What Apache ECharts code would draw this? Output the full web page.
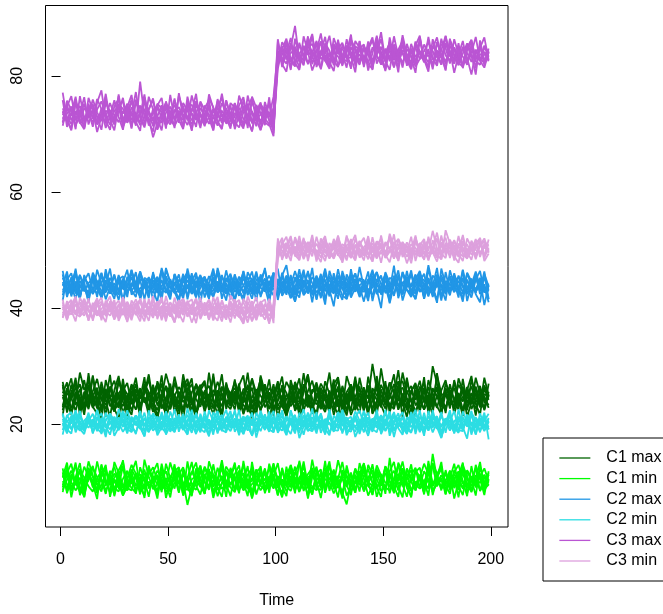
<!DOCTYPE html>
<html>
<head>
<meta charset="utf-8">
<script src="https://cdn.jsdelivr.net/npm/echarts@6/dist/echarts.min.js"></script>
<style>html,body{margin:0;padding:0;background:#fff;}#c{width:663px;height:614px;}</style>
</head>
<body>
<div id="c"></div>
<script>
// Sampling: every second time step, t = 1,3,...,199
const timeStart = 1, timeStep = 2;
const xTicks = [0, 50, 100, 150, 200];
const yTicks = [20, 40, 60, 80];
const groupNames = ["C1 max", "C1 min", "C2 max", "C2 min", "C3 max", "C3 min"];
const groupColors = ["#006400", "#00ff00", "#2196e6", "#2cdde3", "#ba55d3", "#dda0dd"];

const c1Max = [
[25.1,23.4,26.8,24.0,28.9,25.9,27.3,24.6,23.1,22.4,24.8,26.2,23.7,25.4,21.9,24.3,26.9,25.0,23.2,24.7,22.8,25.6,24.1,27.0,23.5,22.6,24.9,26.4,25.2,23.0,24.4,21.8,23.9,25.7,26.6,24.2,22.9,25.3,23.6,24.8,27.4,25.1,23.3,22.5,24.6,26.0,24.9,23.8,25.5,22.3,24.0,26.7,25.4,23.1,24.5,22.2,25.8,27.9,24.3,23.4,25.0,24.1,22.7,26.3,25.6,23.9,24.7,21.6,23.5,25.2,26.1,24.4,30.4,25.9,23.7,24.8,27.2,25.3,23.0,24.6,22.4,25.7,24.2,26.5,23.8,25.1,22.6,24.9,25.0,25.4,23.3,24.0,26.8,25.5,22.8,24.3,26.0,23.6,25.2,24.7],
[23.2,26.1,24.5,22.3,25.0,27.6,23.8,24.9,26.3,22.7,25.5,23.1,24.2,27.1,25.8,22.9,23.6,26.0,24.4,25.3,27.7,23.9,22.4,24.8,26.6,25.1,23.3,24.0,22.1,25.7,26.9,24.3,23.0,25.6,22.8,24.7,27.3,25.2,23.5,22.6,24.9,26.4,23.7,25.0,27.8,24.1,22.5,23.9,26.2,25.4,23.1,24.6,22.0,25.9,26.8,24.2,23.4,25.1,22.9,24.5,27.0,25.6,23.2,24.3,26.5,22.7,25.3,24.0,28.2,23.8,24.9,22.3,25.7,26.1,23.6,24.4,22.8,25.5,27.4,24.1,23.0,25.8,26.7,24.6,22.5,23.9,30.0,27.0,24.3,22.9,25.0,26.3,23.4,24.7,25.9,22.6,24.2,26.6,23.7,25.1],
[26.4,24.1,22.8,25.3,23.6,24.9,26.7,23.0,25.5,24.2,22.6,25.9,27.5,24.4,23.1,25.0,22.3,24.7,26.2,23.8,25.4,24.0,26.9,22.7,23.9,25.6,24.3,22.2,25.1,27.2,23.5,24.8,26.0,23.3,25.2,22.9,24.6,26.5,24.0,23.2,25.7,22.4,24.3,26.8,23.7,25.0,27.1,24.5,22.8,23.9,25.3,24.7,22.6,23.8,27.3,25.5,24.1,22.9,26.0,25.2,23.4,22.1,24.8,25.7,23.0,26.6,24.2,25.9,22.5,24.0,23.6,26.3,24.9,22.7,25.1,23.3,24.5,26.9,24.7,23.1,25.6,24.0,22.3,23.5,26.2,25.3,24.4,22.8,25.8,27.6,24.1,23.0,25.4,22.5,24.9,26.5,23.8,24.6,22.7,25.6],
[24.7,22.5,25.6,27.0,24.0,23.2,25.1,22.8,24.3,26.1,23.9,24.6,22.2,25.3,26.4,23.6,25.8,24.1,22.6,26.5,24.2,23.0,25.4,24.8,22.4,26.2,25.0,23.7,24.9,22.7,25.5,26.7,24.0,22.9,23.8,25.9,24.4,23.1,26.3,25.2,23.4,24.8,25.6,22.1,24.2,23.5,26.4,25.1,24.0,26.9,22.5,23.8,25.0,24.3,22.8,26.1,23.6,24.5,25.4,27.2,24.0,22.6,25.8,23.3,24.7,25.2,22.2,26.6,24.4,23.1,25.3,24.6,22.8,23.9,26.8,25.0,23.4,22.6,25.7,26.3,24.2,22.9,25.1,27.5,24.0,23.3,26.0,24.8,23.6,22.4,25.9,24.4,23.1,26.2,24.7,23.5,25.3,22.9,26.1,24.2],
[22.9,25.4,24.2,26.5,23.1,24.8,22.6,25.7,27.8,24.4,23.3,25.0,24.6,22.8,26.3,25.2,24.0,22.5,25.9,23.7,24.5,26.8,23.2,25.1,24.3,27.0,22.9,25.6,23.8,24.9,22.4,25.3,26.2,24.5,23.6,22.7,25.8,24.1,26.9,23.4,24.7,23.0,26.1,25.5,22.6,24.9,23.4,26.3,24.6,25.7,26.4,22.9,24.3,25.6,23.7,24.0,26.9,23.2,22.8,25.1,24.4,25.9,23.7,22.5,24.9,26.2,23.4,25.0,24.7,26.5,22.7,23.8,25.5,24.2,22.9,26.7,25.1,23.5,24.1,28.9,25.4,26.6,23.2,24.5,25.7,22.8,24.3,26.1,23.0,25.3,24.8,22.6,25.2,23.9,26.4,24.1,22.7,25.5,24.4,23.3],
[26.8,22.0,24.9,27.5,21.3,25.6,23.1,28.2,24.0,20.9,26.1,23.5,22.2,27.9,25.0,21.7,24.6,26.9,22.8,25.3,28.6,23.9,21.5,24.2,26.5,22.6,27.2,24.8,20.8,25.9,23.3,27.0,25.4,22.1,24.7,28.1,23.6,21.9,26.3,24.4,22.5,26.7,28.4,23.0,21.4,25.2,27.6,22.9,24.1,26.0,21.1,24.5,27.3,25.8,22.3,23.7,28.8,24.3,21.8,26.6,25.1,22.7,24.0,27.7,23.4,20.7,25.5,26.8,22.4,28.0,24.6,21.6,26.2,25.0,23.2,27.4,22.0,24.9,29.3,23.8,21.2,25.7,27.1,22.6,24.3,26.4,23.1,28.5,25.3,21.9,26.9,24.0,22.5,27.8,23.6,25.4,21.5,26.1,24.7,22.8],
[22.4,25.7,27.9,23.3,24.8,21.6,26.4,25.0,22.7,27.3,24.1,21.2,25.9,28.3,23.8,22.5,26.6,24.2,21.8,27.0,25.5,23.0,20.9,24.6,28.7,26.0,22.1,23.9,27.5,24.4,21.4,25.3,26.8,22.9,28.9,24.0,21.7,26.2,25.6,23.1,27.7,22.3,24.8,26.5,21.0,23.6,28.1,25.2,22.6,24.9,27.4,23.5,21.3,26.7,24.3,22.0,25.8,28.5,23.2,21.9,26.3,24.7,22.8,25.4,27.8,21.5,24.1,26.9,23.7,25.1,22.2,28.2,24.5,21.7,26.0,23.4,27.2,25.6,22.5,24.2,28.0,23.9,21.4,25.7,27.0,22.9,24.6,26.4,21.8,25.3,23.1,27.6,24.4,22.0,25.9,28.3,23.5,21.6,26.7,24.8],
[25.3,27.2,21.9,24.4,26.0,22.8,28.8,23.7,25.9,22.1,27.6,24.9,22.4,23.6,26.8,20.8,25.1,28.0,23.3,24.6,21.6,26.3,24.0,28.4,22.7,25.5,23.9,21.2,26.6,27.8,24.3,22.0,25.8,27.1,23.5,21.8,24.9,28.6,22.6,25.4,26.2,24.6,21.7,23.9,27.9,25.3,22.2,26.9,24.0,21.5,25.6,28.2,22.9,24.8,26.5,21.2,23.4,25.7,27.5,24.2,22.6,25.0,28.9,23.1,21.8,26.1,24.6,22.3,27.3,25.8,23.6,26.6,21.9,28.3,24.1,22.7,25.4,23.0,26.8,27.4,24.5,22.1,25.9,23.7,28.1,21.6,26.2,24.8,22.9,27.0,25.6,21.8,24.3,26.5,22.4,27.7,25.0,23.2,28.0,24.9],
[21.5,26.2,24.7,28.0,22.4,25.1,27.7,23.0,21.8,26.4,24.2,28.5,22.7,20.9,25.8,27.1,23.6,25.0,21.4,26.9,24.5,22.1,27.4,25.6,21.0,23.8,28.2,24.9,22.5,26.0,27.9,21.6,24.1,25.5,22.8,28.7,23.3,21.2,26.6,25.2,23.9,27.0,21.9,24.6,26.3,22.2,28.4,25.4,21.1,24.0,26.8,23.1,21.7,27.6,24.8,22.6,26.1,28.6,23.5,21.3,25.7,24.3,22.0,26.9,28.1,23.7,21.5,25.3,27.2,22.9,24.5,26.7,21.8,23.4,29.6,25.1,22.3,24.7,26.5,21.2,27.5,23.9,25.5,22.1,26.3,24.0,21.6,28.8,23.2,25.9,22.7,27.3,24.4,21.4,26.0,23.6,28.0,25.2,22.4,24.9],
[27.3,23.8,21.7,25.4,26.9,22.5,24.1,28.4,23.4,25.7,21.3,26.5,24.8,22.9,27.8,23.1,21.6,25.9,24.4,28.1,22.2,25.3,27.0,23.5,21.9,26.2,24.6,22.7,28.6,25.0,23.7,21.1,26.4,27.5,22.4,24.9,25.8,21.5,27.2,23.9,25.6,22.0,24.3,28.9,23.3,21.7,26.6,24.5,27.7,22.8,24.1,26.3,21.4,23.8,25.5,27.9,22.3,24.7,21.8,26.8,23.0,27.4,25.2,21.6,24.4,22.6,28.3,25.9,23.6,21.9,26.4,22.4,24.0,27.1,23.3,21.5,25.7,28.6,22.8,25.3,23.5,21.0,26.9,24.2,22.5,27.6,25.1,23.1,21.7,26.2,24.8,22.9,27.9,25.6,21.3,23.8,26.5,24.1,22.6,27.0]
];
const c1Min = [
[10.2,8.9,11.4,9.6,12.1,10.8,9.3,8.4,10.7,11.9,9.8,10.5,8.7,11.2,12.6,10.1,9.0,8.2,10.9,11.5,9.4,10.3,12.0,10.6,8.8,9.7,11.1,10.0,8.5,9.9,11.8,10.4,9.2,12.4,10.7,8.6,9.5,11.0,10.3,9.1,8.3,10.8,11.6,9.9,10.2,12.2,9.4,8.7,10.6,11.3,9.0,10.5,8.4,9.8,11.7,10.1,12.8,9.6,8.9,10.4,11.2,9.3,10.0,8.1,9.7,11.4,10.9,9.5,12.3,10.2,8.8,9.9,11.1,10.6,8.5,9.2,10.8,12.0,9.7,10.3,11.5,8.6,10.1,9.4,11.9,10.5,8.3,9.8,11.2,10.0,9.1,12.1,10.7,8.9,9.6,11.0,10.4,8.7,10.9,9.5],
[9.5,11.3,10.0,8.6,9.8,12.7,11.0,10.2,8.9,9.4,11.6,10.8,9.1,8.4,10.6,12.0,9.7,10.9,11.4,8.8,10.1,9.3,8.0,10.7,11.9,9.6,10.4,12.3,9.0,8.7,10.5,11.1,9.8,8.5,10.9,9.2,12.5,10.3,11.7,9.5,10.8,8.9,9.6,11.3,12.4,10.0,8.6,9.9,11.0,10.6,9.2,8.3,10.9,11.8,9.7,10.4,8.8,9.1,11.5,12.2,10.3,9.0,11.6,10.7,9.4,8.5,10.1,11.2,9.8,10.5,12.6,9.3,8.7,10.8,11.4,9.9,10.2,8.4,11.0,9.6,10.7,12.1,9.5,11.3,10.0,8.9,14.9,10.6,9.2,11.7,8.6,10.4,11.9,9.7,10.9,8.8,10.2,11.5,9.3,10.1],
[11.1,9.7,8.5,10.6,11.8,9.2,10.3,12.5,10.9,8.8,9.6,11.4,10.1,9.0,8.6,10.8,11.7,9.4,10.5,12.2,8.9,10.2,11.3,9.5,10.7,8.4,9.9,11.6,10.0,6.1,9.3,10.6,12.0,11.2,9.1,10.4,8.7,9.8,11.5,10.9,12.8,10.3,8.6,9.4,10.7,11.1,9.6,12.0,10.2,8.9,10.5,11.9,9.3,8.5,10.8,9.7,10.1,11.4,12.4,9.0,8.7,10.6,9.9,11.7,10.3,8.2,6.2,10.0,11.3,9.5,10.9,12.3,9.8,8.9,10.4,11.6,9.2,10.7,8.6,11.0,9.4,10.2,11.8,12.5,9.1,10.5,8.8,9.6,11.2,10.3,12.0,9.0,10.8,11.4,9.7,8.5,10.6,9.9,11.3,10.0],
[8.7,10.4,12.0,9.9,8.3,10.7,11.5,9.4,10.1,11.0,12.4,9.6,10.8,11.9,9.3,8.6,10.2,11.1,9.8,8.9,11.4,12.6,10.3,8.8,9.5,10.9,12.1,9.7,11.3,10.0,8.4,9.9,10.6,12.7,11.2,9.5,10.1,8.9,9.6,12.2,10.4,11.7,9.0,10.6,8.5,9.8,11.4,10.3,12.5,9.2,11.0,10.2,9.6,12.4,8.7,10.9,11.6,10.0,9.3,8.6,9.9,11.8,10.4,12.2,9.0,10.7,11.3,8.4,10.1,11.9,9.5,10.8,12.1,9.2,10.5,8.8,11.5,9.7,10.3,12.4,10.0,8.5,9.6,10.8,13.2,11.4,9.3,10.6,8.9,9.8,11.1,10.3,8.7,12.0,10.5,9.4,11.2,10.7,8.8,9.6],
[10.8,12.3,9.1,10.4,8.8,9.7,13.6,11.2,9.5,10.6,8.6,9.9,11.5,10.3,9.0,11.8,10.5,8.9,9.4,10.7,12.1,11.0,9.6,10.2,8.3,9.5,10.8,11.4,12.6,10.1,9.2,8.7,11.9,10.0,9.4,11.3,10.6,12.4,8.8,9.9,10.5,12.0,11.1,8.9,9.7,10.4,11.8,8.6,9.3,12.2,10.7,9.4,11.6,10.1,12.7,8.5,9.8,10.9,11.3,9.6,10.4,12.5,8.9,9.7,11.1,10.6,9.2,11.7,8.8,10.3,11.9,10.0,9.4,12.2,10.7,9.1,8.6,10.5,11.4,9.3,12.3,10.8,9.6,8.9,10.1,11.6,12.8,9.5,10.4,8.7,9.9,11.3,10.5,9.0,12.1,10.8,9.4,11.0,12.4,10.2],
[12.4,8.1,10.6,13.0,9.2,7.5,11.3,12.8,9.6,8.4,11.9,10.2,7.9,12.1,13.5,9.0,8.6,11.6,10.4,7.3,12.6,9.8,11.1,8.3,13.2,10.7,8.9,12.3,7.7,10.1,11.7,13.4,9.4,8.0,12.0,10.9,7.6,9.9,12.7,11.4,8.5,10.3,13.1,9.1,7.8,11.8,12.5,8.8,10.6,13.3,9.5,7.4,11.2,12.9,8.7,10.0,13.6,9.3,7.9,11.5,12.2,8.2,10.8,9.7,13.8,11.0,7.7,9.2,12.4,10.5,8.6,13.0,11.3,7.5,9.9,12.6,10.2,8.1,13.4,11.7,9.0,7.6,12.1,10.9,8.3,13.7,9.6,11.4,12.8,8.0,10.7,13.2,9.4,7.8,11.9,10.3,12.5,8.5,9.8,11.6],
[8.3,11.6,13.2,9.5,10.8,7.4,12.0,9.1,13.6,10.4,8.0,11.2,12.7,9.8,7.7,10.6,13.0,11.5,8.4,9.3,12.9,10.1,7.2,11.8,9.6,13.4,10.9,8.2,12.2,9.0,7.8,11.4,12.8,10.0,8.7,13.1,9.4,11.1,7.5,12.5,10.5,8.1,13.7,9.7,11.9,7.9,10.3,12.4,8.8,11.0,13.3,9.2,7.6,12.6,10.7,8.5,11.7,9.0,13.9,10.2,7.3,11.3,12.9,8.9,10.6,13.5,9.5,7.8,12.1,11.4,8.4,10.0,13.1,9.1,7.5,12.7,11.6,8.6,10.9,13.6,9.8,7.4,12.3,10.4,8.2,11.8,13.2,9.3,10.7,7.9,12.0,9.6,11.1,13.4,8.1,10.5,7.7,12.6,9.9,11.3],
[10.9,13.4,8.6,9.9,12.3,7.9,11.5,10.2,8.3,13.1,9.4,12.0,7.6,10.8,13.8,9.2,11.1,8.0,12.6,10.4,7.5,11.7,13.3,9.0,10.6,8.4,12.4,11.0,7.8,13.6,9.6,10.3,12.9,8.2,11.4,7.3,10.0,13.2,9.1,12.2,8.7,11.9,10.1,7.6,13.5,9.5,12.8,8.1,10.7,11.3,7.7,12.5,9.4,13.0,10.5,8.3,11.6,7.2,10.9,12.7,9.0,13.7,8.5,11.2,10.0,7.5,12.9,9.8,8.2,11.5,13.3,9.7,7.9,12.1,10.6,8.8,11.9,13.5,9.3,7.4,12.4,10.1,8.6,11.0,9.2,13.1,7.8,10.8,12.3,9.5,8.0,11.7,13.0,10.2,7.6,12.8,9.1,11.2,8.4,10.6],
[9.1,12.6,7.4,10.9,13.3,8.5,11.2,9.7,7.1,12.9,10.4,8.2,13.5,11.6,7.7,9.3,12.2,10.8,7.9,13.9,11.0,8.8,9.6,12.7,7.3,10.2,13.1,8.4,11.7,9.5,7.6,12.4,10.6,8.0,13.6,11.3,9.1,7.5,12.0,10.9,13.4,8.6,10.1,12.8,7.2,9.9,11.5,8.3,13.2,10.5,7.8,12.3,9.4,11.1,8.1,13.7,10.3,7.6,12.5,9.0,11.8,8.7,13.0,10.0,7.4,12.1,9.8,11.4,8.2,13.3,10.7,7.7,9.5,12.9,11.2,8.0,14.2,9.3,7.5,12.2,10.4,13.1,8.6,11.0,7.9,12.6,9.7,10.8,13.5,8.3,11.6,7.2,10.1,12.7,9.2,8.5,13.0,10.6,7.8,11.9],
[11.7,8.4,10.2,13.4,7.8,9.6,12.5,10.9,8.1,11.3,13.0,7.5,10.6,9.2,12.8,8.6,11.5,13.7,9.0,7.7,12.1,10.4,8.3,13.2,9.8,7.4,11.9,12.6,8.9,10.7,13.5,9.4,7.9,11.1,12.3,8.0,10.5,13.8,9.7,7.6,11.4,12.9,8.7,10.0,7.3,12.2,9.5,11.8,8.2,13.1,10.3,7.6,12.7,9.1,11.6,13.4,8.5,10.8,7.9,12.0,9.3,11.2,13.6,8.8,10.4,7.2,12.4,9.9,11.0,8.4,13.2,10.1,7.8,11.7,9.4,12.8,8.1,10.6,13.0,9.6,7.5,11.3,12.5,8.9,10.2,7.7,13.3,11.5,8.6,12.1,9.2,10.9,7.4,12.9,11.1,8.3,10.5,13.5,9.0,11.4]
];
const c2Max = [
[44.1,42.8,45.3,43.5,42.2,44.7,46.0,43.1,42.6,44.4,45.6,43.8,42.4,44.9,43.3,45.1,42.9,44.2,46.3,43.6,42.5,44.0,45.4,43.2,42.7,44.6,43.9,45.8,42.3,43.7,44.8,42.6,43.4,45.2,44.1,42.0,43.8,45.7,43.0,44.5,42.8,43.6,45.0,44.3,42.4,46.1,43.5,42.9,44.7,43.1,44.2,45.5,42.7,43.9,46.4,44.0,42.5,43.3,45.3,44.6,42.1,43.7,44.9,42.8,45.6,43.2,44.4,41.8,43.5,45.1,44.8,42.6,43.9,46.2,44.1,42.9,43.4,45.4,42.3,44.5,43.6,45.8,42.7,44.0,43.1,45.2,41.9,44.6,43.8,42.4,45.5,43.3,44.7,42.6,46.0,43.9,42.8,44.3,45.1,43.0],
[43.0,44.6,42.5,45.8,43.7,42.9,44.3,45.1,43.4,42.1,44.8,43.2,45.6,42.7,44.0,43.5,46.5,44.2,42.8,43.9,45.3,44.1,42.6,43.8,45.0,42.3,44.5,43.1,44.9,46.1,43.6,42.4,44.7,43.3,45.5,44.0,42.8,43.5,44.6,45.9,43.2,44.4,42.5,43.7,45.1,42.9,44.8,46.6,43.4,42.2,45.0,43.8,44.5,42.6,43.1,45.7,44.2,42.9,43.6,45.4,44.0,46.8,43.3,42.5,44.7,43.9,45.2,42.8,44.1,41.9,43.5,45.0,44.6,42.4,43.8,45.9,43.1,44.3,42.7,46.2,44.4,43.0,42.5,45.3,44.8,43.6,42.2,44.1,45.7,43.4,42.9,44.6,43.2,45.1,42.5,44.0,46.3,43.7,42.8,44.2],
[44.5,43.3,42.4,44.0,45.7,43.6,42.7,44.9,43.2,45.4,43.9,42.5,44.3,43.0,45.1,42.8,43.7,44.6,42.3,45.0,43.4,44.8,43.1,46.9,44.2,43.5,42.6,44.9,43.8,42.2,45.3,43.6,44.4,42.9,43.2,44.7,45.8,43.3,42.5,44.1,43.7,45.4,43.9,42.6,44.6,43.0,42.4,44.2,45.6,43.8,42.9,44.0,43.4,45.2,42.3,44.5,43.7,46.1,44.3,42.7,43.5,44.9,42.4,43.6,44.2,42.1,41.6,44.8,45.9,43.2,42.8,44.4,45.5,43.1,42.6,44.7,43.9,42.3,45.3,44.0,43.1,42.6,44.9,46.4,43.5,42.9,44.2,43.6,45.0,42.7,44.3,45.7,43.0,42.4,44.8,43.3,45.4,42.9,44.1,41.5],
[42.7,43.9,44.8,42.5,43.6,45.2,44.1,42.4,43.8,46.0,43.2,44.5,42.9,45.7,43.4,42.6,44.3,43.1,45.0,44.6,42.8,43.5,44.9,42.2,45.5,43.7,44.0,42.7,43.3,44.8,42.9,45.6,43.8,44.2,42.4,43.1,44.6,42.8,45.2,43.5,44.7,42.6,43.9,45.3,43.0,44.4,42.3,43.6,44.1,46.0,43.3,42.7,45.6,44.3,43.7,42.5,44.8,43.4,42.9,44.0,45.4,43.1,42.6,44.6,43.8,45.9,42.8,43.2,44.7,42.6,44.0,43.3,42.2,44.9,45.3,43.6,42.7,44.1,43.9,42.4,45.1,43.7,44.5,42.8,43.2,47.4,43.8,44.6,42.3,43.5,44.2,42.7,45.6,43.9,43.1,44.5,42.6,45.2,43.4,42.9],
[45.2,43.5,44.0,42.9,44.7,43.1,42.6,45.5,44.2,43.0,42.7,44.4,43.6,42.3,44.9,43.8,45.3,42.8,43.4,44.1,43.7,42.6,45.1,44.5,43.0,42.4,45.8,43.3,44.6,43.9,42.5,44.2,45.7,43.6,42.8,44.9,43.2,44.0,42.7,43.4,45.3,43.8,42.9,44.5,42.6,43.4,45.5,44.0,43.1,44.8,42.2,43.5,44.7,42.9,45.0,43.3,44.4,42.8,43.7,45.6,43.0,44.2,43.8,45.3,42.5,44.6,43.4,45.7,42.9,43.9,44.6,42.3,43.6,44.1,42.7,43.5,45.2,44.8,43.0,42.6,44.3,43.9,45.8,42.9,44.2,43.4,42.5,45.1,44.0,43.3,42.8,44.7,45.3,43.6,42.4,44.5,43.2,44.9,42.7,43.8],
[45.8,41.9,44.3,46.4,42.5,43.7,41.2,45.1,44.6,42.0,46.7,43.2,41.6,44.9,45.5,42.8,43.9,46.2,41.4,44.1,42.3,45.7,43.5,41.8,46.9,44.4,42.6,43.0,45.9,41.5,44.7,46.1,42.2,43.8,41.7,45.3,44.0,42.9,46.5,43.3,41.3,44.8,45.6,42.4,43.6,46.3,41.9,44.5,42.7,45.0,46.8,42.1,43.4,45.4,41.1,44.2,46.6,42.5,43.9,41.6,45.2,44.7,42.0,46.0,43.1,41.4,45.8,44.3,42.8,47.1,43.5,41.8,44.9,46.2,42.3,43.7,41.0,45.6,44.1,42.6,46.4,43.0,41.5,44.6,45.9,42.2,43.8,46.9,41.7,44.4,45.1,42.9,43.3,46.5,41.2,44.0,45.7,42.4,43.6,41.0],
[42.2,44.9,46.0,43.1,41.7,45.4,43.8,42.5,46.6,44.2,41.5,43.6,45.8,42.9,44.5,41.9,46.3,43.3,42.0,45.2,44.7,41.4,43.9,46.5,42.6,45.0,43.2,41.6,44.8,46.2,42.4,43.7,45.5,41.8,44.3,46.8,42.7,43.4,41.3,45.6,44.0,42.1,46.4,43.5,41.6,44.9,45.3,42.8,43.9,46.1,41.4,44.6,42.3,45.7,43.0,41.8,46.0,44.4,42.5,43.6,45.9,41.5,44.1,42.7,46.7,43.3,41.9,45.1,44.8,42.2,43.7,46.3,41.2,44.5,45.6,42.6,43.1,47.3,41.7,44.2,45.4,42.0,43.8,46.1,41.6,44.7,42.9,45.8,43.4,41.3,46.5,44.0,42.4,45.2,43.6,41.8,44.9,46.4,42.7,43.5],
[43.9,46.3,42.0,44.6,41.6,45.7,43.4,44.9,41.9,46.1,42.8,45.2,43.7,41.4,44.4,46.6,42.3,43.1,45.6,44.0,41.7,46.2,42.9,44.8,43.3,41.5,45.9,44.2,42.4,46.8,43.6,41.8,44.7,45.4,42.1,43.9,46.5,41.6,44.3,42.7,45.8,43.0,41.2,44.5,46.3,42.6,43.8,45.1,41.8,44.1,42.5,46.1,43.5,41.7,45.3,44.6,42.2,43.2,46.9,41.4,44.8,42.9,45.5,43.6,41.6,46.4,44.0,42.3,45.0,43.8,41.1,44.4,46.6,42.8,43.4,45.9,41.5,44.7,42.6,46.2,43.1,41.9,45.6,44.3,42.0,46.7,43.7,41.4,45.2,44.5,42.7,46.0,43.3,41.7,44.9,42.5,45.7,43.0,46.3,41.6],
[41.3,45.6,43.0,46.8,42.1,44.5,40.9,45.9,43.4,41.8,46.2,44.0,42.4,45.3,41.1,43.8,46.6,42.7,44.9,41.5,45.1,43.2,41.0,46.4,44.3,42.0,45.7,43.6,41.6,46.0,42.8,44.7,40.7,45.4,43.1,41.9,46.9,44.2,42.5,45.0,41.4,43.9,46.3,42.2,44.6,41.2,45.8,43.5,40.8,46.1,44.4,42.3,45.5,41.7,43.3,46.7,42.6,44.8,41.0,45.2,43.7,40.6,46.4,44.1,42.4,45.6,41.5,43.9,46.0,42.9,44.5,41.8,45.3,43.2,40.0,46.2,44.3,42.1,45.7,41.3,43.8,46.5,42.5,44.9,41.6,45.1,43.4,40.9,46.8,44.0,42.2,45.4,43.6,41.1,46.1,44.6,42.7,45.0,40.5,43.9],
[46.4,42.6,44.2,41.4,45.7,43.5,42.0,46.1,44.6,41.7,43.9,46.8,42.3,44.8,41.2,45.4,43.1,41.9,46.3,44.0,42.5,45.9,43.7,41.3,46.6,44.4,42.8,41.0,45.2,43.3,46.0,42.1,44.9,43.6,41.6,46.5,42.7,45.3,44.1,41.5,45.8,43.0,41.8,46.2,44.7,42.4,43.8,46.9,41.4,44.3,42.0,45.6,47.4,42.9,41.1,45.0,43.4,46.4,42.2,44.6,41.7,46.1,43.2,40.3,45.5,44.2,41.9,46.7,42.8,45.1,43.6,41.2,46.3,44.4,42.6,45.8,40.8,44.0,46.5,42.3,45.3,43.1,41.6,46.0,43.9,42.0,45.6,44.7,41.3,46.2,42.9,44.5,41.8,46.6,43.3,45.1,42.4,41.0,45.9,43.7]
];
const c2Min = [
[20.3,19.4,21.0,19.8,18.9,20.6,21.4,19.5,20.1,19.0,20.8,21.5,19.7,20.2,18.7,19.9,20.9,20.4,19.3,21.1,19.6,20.5,18.8,20.0,21.3,19.8,20.7,19.2,20.4,21.6,19.5,20.1,18.6,20.9,19.8,21.2,20.3,19.0,20.6,19.7,21.0,19.4,20.2,18.9,20.8,19.6,21.4,20.1,19.3,20.5,18.8,20.3,21.1,19.9,20.7,19.1,20.4,21.7,19.6,20.0,19.3,20.8,18.5,20.2,21.0,19.7,20.5,19.2,21.3,20.1,19.5,20.6,18.9,20.3,21.5,19.8,20.0,19.1,20.7,21.2,19.7,18.7,20.4,19.9,21.1,20.2,19.4,20.8,17.9,20.5,21.3,19.6,20.1,19.0,20.9,19.8,21.2,20.0,19.3,20.6],
[19.6,20.7,19.1,20.3,21.2,19.8,20.5,18.8,19.9,20.9,19.4,20.2,21.3,19.7,20.6,19.0,20.4,21.5,19.8,20.1,18.7,19.9,20.8,21.1,19.5,20.3,19.2,20.7,21.0,19.6,20.4,21.6,19.9,19.3,20.5,18.8,20.1,21.3,19.7,20.2,19.4,20.9,18.6,20.3,19.8,21.0,20.6,19.2,20.0,21.4,19.7,20.4,19.1,20.8,18.9,20.2,19.5,20.6,21.2,19.3,20.7,19.8,21.5,19.4,20.0,18.7,20.9,20.3,19.6,20.5,21.1,19.2,20.4,19.7,18.8,20.6,21.3,19.9,20.2,19.1,20.8,21.4,19.5,20.1,19.3,20.7,18.6,20.3,19.8,21.0,19.4,20.5,21.2,19.9,20.3,18.9,20.0,21.1,19.6,20.4],
[20.9,19.2,20.4,21.3,19.7,18.9,20.2,20.8,19.4,21.1,20.0,19.1,20.6,19.8,21.4,20.3,19.5,18.6,20.7,19.9,21.2,20.1,19.3,20.5,18.8,21.0,19.7,20.3,19.0,20.8,21.5,19.4,20.6,20.0,19.2,20.9,18.7,19.8,21.2,20.4,19.6,20.2,21.1,19.5,20.7,18.9,19.9,21.3,20.5,19.0,20.6,21.4,19.6,20.1,19.3,21.0,20.3,18.8,19.7,20.9,21.2,19.5,20.2,19.8,21.5,20.0,19.1,20.7,19.4,18.9,20.3,21.1,19.8,20.5,19.2,20.9,19.6,21.4,20.1,19.3,18.8,20.6,21.0,19.7,20.4,19.1,21.3,20.2,19.5,20.8,19.9,18.7,20.5,21.2,19.6,20.3,19.4,20.7,21.0,19.1],
[19.9,20.5,21.2,19.3,20.0,19.6,21.0,20.4,18.8,20.7,19.5,21.1,20.3,19.0,20.6,21.4,19.8,20.1,19.2,20.9,20.4,18.9,19.7,21.3,20.2,19.4,21.0,20.6,19.8,19.1,20.7,20.0,21.4,19.5,20.8,19.7,21.1,20.3,18.9,20.5,20.1,19.3,20.6,21.2,19.9,20.4,18.8,20.9,19.6,21.0,20.3,19.7,18.6,20.5,21.3,19.8,20.7,19.4,20.1,21.1,19.6,20.9,20.2,18.7,20.4,21.2,19.5,20.0,20.8,19.3,21.0,20.2,19.6,21.3,19.9,20.4,18.9,20.6,21.1,19.8,20.3,19.5,20.9,18.6,21.2,19.9,20.5,19.2,21.4,20.0,20.6,19.4,18.9,20.3,21.1,19.7,20.8,20.2,18.8,20.4],
[20.6,19.8,19.3,20.9,21.5,20.1,19.4,20.7,21.2,19.6,18.8,20.3,19.9,21.0,20.5,19.1,21.3,20.0,19.6,18.9,20.4,21.1,19.7,20.2,20.8,19.3,18.7,20.6,21.4,20.1,19.2,20.5,21.0,19.8,20.3,19.4,20.9,21.6,19.7,18.8,20.5,20.0,19.2,21.1,20.6,19.5,20.8,19.9,21.3,20.2,19.4,18.9,20.7,21.0,19.6,20.3,21.4,19.8,20.5,19.2,20.0,19.6,21.1,20.4,19.3,20.8,21.2,19.5,18.7,20.6,20.1,19.7,21.0,19.4,20.9,18.8,20.3,21.5,19.6,20.2,19.9,20.7,19.0,21.3,20.1,19.4,20.8,21.1,19.7,20.4,18.9,20.5,21.0,19.3,20.6,21.4,19.8,20.0,20.9,19.5],
[21.6,18.7,20.4,22.0,19.2,18.3,21.1,20.0,22.4,19.5,18.6,21.8,20.7,19.0,22.2,18.9,20.3,21.5,19.4,17.9,21.2,20.5,18.4,22.1,19.7,20.9,18.8,21.7,19.1,20.2,22.5,18.5,19.8,21.3,20.6,18.2,21.9,19.3,20.8,22.3,18.7,20.1,21.4,19.6,18.1,22.0,20.4,19.0,21.6,18.6,20.9,22.2,19.4,18.3,21.0,20.3,22.6,19.1,18.8,21.5,20.0,18.4,21.8,19.7,22.1,20.6,18.6,19.3,21.2,22.4,19.8,18.0,20.7,21.6,19.2,22.3,18.7,20.2,21.1,19.5,18.3,21.9,20.5,19.0,22.0,18.9,20.8,21.4,17.7,20.1,21.7,19.4,18.5,22.2,20.3,19.1,21.0,18.8,20.6,21.8],
[19.0,21.4,22.1,18.6,20.5,19.3,21.7,18.4,20.8,21.9,19.6,18.2,21.1,20.3,22.3,19.1,18.7,21.5,20.0,22.0,18.8,20.6,21.3,19.4,18.5,22.2,20.1,19.7,21.8,18.3,20.9,21.6,19.2,18.6,22.4,20.4,19.0,21.2,18.9,20.7,22.1,19.5,18.3,21.0,20.2,18.7,21.9,19.8,20.5,22.3,18.5,19.9,21.4,20.1,18.4,22.0,19.6,21.1,18.8,20.6,21.7,19.2,18.1,21.5,20.3,22.5,19.0,18.7,21.3,20.0,22.2,18.6,20.8,19.4,21.6,18.9,20.4,22.1,19.3,18.2,21.2,20.7,19.1,22.4,18.6,20.2,21.8,19.5,18.4,21.0,20.5,22.3,19.0,18.8,21.5,20.1,18.3,21.9,19.7,20.9],
[20.2,18.4,21.5,19.7,22.3,18.9,20.6,21.8,19.2,18.5,22.0,20.4,18.8,21.2,19.5,22.4,20.0,18.3,21.6,19.9,18.6,21.9,20.7,19.0,22.1,18.7,20.3,21.4,19.4,18.2,21.7,20.1,18.9,22.2,19.6,21.0,18.4,20.8,22.5,19.3,20.6,18.1,21.3,19.9,22.0,18.8,20.2,21.7,19.1,18.6,21.9,20.5,18.7,22.3,19.4,20.8,18.2,21.1,19.8,22.1,18.5,20.4,21.6,19.0,18.9,22.4,20.1,19.5,21.3,18.3,20.7,22.0,19.2,18.6,21.5,20.3,22.2,18.9,19.7,21.2,18.4,20.6,22.5,19.3,18.8,21.4,20.0,19.6,22.1,18.5,21.8,19.9,18.7,21.0,20.4,22.3,18.2,20.8,19.4,21.1],
[18.2,21.6,20.1,22.4,18.9,19.6,22.0,18.5,21.2,20.4,17.8,21.9,19.3,22.6,20.6,18.4,21.0,19.8,22.3,18.7,20.9,21.7,18.1,19.5,22.2,20.3,18.6,21.4,19.1,22.7,20.0,18.3,21.8,19.7,17.9,22.1,20.5,18.8,21.3,19.4,22.5,18.5,20.7,21.5,18.0,19.9,22.3,20.2,18.7,21.1,19.3,22.4,18.2,20.8,21.6,17.6,19.6,22.0,20.4,18.4,21.9,19.0,22.6,18.9,20.3,21.7,18.1,19.8,22.2,20.6,18.6,21.2,19.4,22.5,18.3,20.0,21.5,17.8,20.9,22.1,19.2,18.5,21.8,20.5,18.0,22.3,19.7,21.0,18.8,20.2,22.4,18.4,21.3,19.5,17.5,22.0,20.7,18.6,21.6,19.1],
[21.9,19.1,18.4,22.2,20.4,18.8,21.3,19.7,22.5,18.3,20.6,21.8,18.0,19.4,22.1,20.8,18.6,21.5,19.9,17.9,22.4,19.3,20.7,21.6,18.2,19.8,22.6,18.7,21.0,20.2,18.5,22.0,19.6,21.4,18.1,20.9,22.3,19.0,18.6,21.7,19.5,22.5,18.3,20.3,21.9,17.7,20.6,19.2,22.2,18.9,21.2,19.7,18.1,22.4,20.0,18.5,21.6,19.4,22.7,18.8,20.5,18.2,21.8,19.9,22.0,18.4,20.8,21.3,17.8,19.6,22.3,20.1,18.7,21.5,19.3,22.5,18.0,20.4,21.9,18.6,19.8,22.1,18.3,21.2,20.6,18.9,22.4,19.5,17.6,21.0,20.3,18.5,22.6,19.1,21.7,18.2,20.9,19.7,22.0,17.4]
];
const c3Max = [
[73.8,72.1,74.6,71.5,73.0,75.2,72.7,74.1,71.9,73.5,76.0,72.4,73.9,74.8,71.2,72.9,75.6,73.3,72.0,74.3,71.7,73.6,75.0,72.5,74.4,73.1,71.4,72.8,75.3,74.0,72.3,73.7,71.6,74.9,73.2,72.6,75.7,73.4,71.8,72.2,74.7,73.0,71.3,72.9,75.4,73.6,72.1,74.2,73.5,71.0,83.9,82.4,84.7,83.1,81.8,85.3,83.6,82.2,84.1,86.0,82.9,83.5,81.6,84.4,85.8,83.0,82.5,84.9,83.3,81.9,85.1,83.7,82.3,84.0,86.3,82.8,83.4,81.5,84.6,83.8,82.1,85.5,83.2,84.3,82.7,81.7,84.8,86.6,83.1,82.6,84.2,83.5,81.8,85.0,83.9,82.4,84.5,83.0,82.2,84.7],
[72.6,74.3,73.1,75.5,72.2,71.6,73.8,74.9,72.9,73.4,71.8,74.1,72.5,73.7,76.2,72.0,74.6,73.3,71.5,72.8,74.2,75.8,73.0,71.9,73.6,74.7,72.3,73.9,71.2,75.1,73.5,72.4,74.4,73.2,71.7,74.0,72.7,75.3,73.8,71.4,73.1,74.5,72.6,71.6,73.9,72.2,74.8,73.4,72.9,74.1,82.6,84.4,83.1,85.6,82.3,83.8,84.9,82.0,83.6,84.3,85.9,82.5,83.4,84.7,81.7,83.0,85.2,84.1,82.8,83.7,81.9,84.5,86.1,83.3,82.4,84.0,85.6,82.7,83.9,82.2,84.6,83.4,81.6,82.9,85.4,83.8,84.3,82.1,86.4,83.5,82.6,84.9,83.0,81.8,84.4,85.7,82.9,83.6,84.1,82.5],
[74.4,72.9,71.7,73.6,74.8,72.4,73.1,75.9,73.7,72.2,74.0,73.3,71.9,75.1,74.3,72.6,73.8,71.4,79.0,73.0,72.7,69.4,71.8,73.4,75.4,72.1,73.9,74.6,72.8,71.5,74.2,75.6,72.9,73.5,74.7,71.3,73.2,72.5,73.4,73.6,72.0,71.1,73.7,74.4,72.3,73.0,75.1,72.6,71.7,69.6,84.3,83.0,82.1,84.8,88.6,82.7,84.9,84.2,83.2,81.9,83.7,85.2,82.6,84.0,83.3,82.0,84.5,86.2,83.1,82.8,84.6,83.6,81.8,85.3,84.1,82.5,83.4,85.0,82.3,84.4,83.7,82.2,85.7,84.0,82.9,83.6,81.5,84.3,83.1,85.4,83.8,82.7,84.6,83.3,81.9,84.9,83.4,82.6,85.2,83.9],
[73.2,75.0,72.3,73.9,71.8,74.5,73.4,72.0,74.2,75.6,73.1,71.6,72.8,74.7,73.5,75.2,72.4,73.0,74.9,71.9,73.7,72.5,74.3,73.8,71.5,72.6,75.8,73.3,74.1,72.9,71.7,73.6,75.4,72.1,74.6,73.0,71.4,74.0,72.7,73.5,75.3,72.3,74.8,73.2,72.0,74.4,71.6,73.9,75.0,72.5,83.4,85.1,82.8,83.9,84.6,82.4,83.1,85.8,84.0,82.6,83.5,84.2,82.1,85.5,83.8,84.7,82.9,83.2,85.1,84.4,83.0,82.2,84.9,83.6,85.0,82.5,84.3,83.7,81.6,85.3,83.2,84.7,82.6,83.9,84.2,85.9,82.8,83.3,84.6,82.0,85.2,83.7,82.9,84.8,83.1,80.2,84.1,85.0,82.7,83.4],
[71.9,73.5,74.7,72.8,73.3,72.1,74.0,73.6,71.7,74.4,72.9,75.3,73.2,72.0,73.8,74.6,71.8,72.7,73.5,75.5,73.9,72.2,73.0,74.9,72.6,71.6,74.2,73.1,72.4,74.7,75.0,72.7,73.4,71.5,72.9,74.3,73.7,71.9,74.5,72.3,73.6,72.8,74.1,75.2,71.8,72.6,73.3,74.7,72.2,70.6,82.9,83.6,85.4,82.5,84.1,83.3,82.6,84.8,85.5,83.0,84.3,82.7,83.9,82.2,84.6,85.7,83.4,82.0,84.0,85.2,83.1,84.4,82.8,83.5,81.9,84.7,82.5,86.8,83.3,84.1,82.4,83.8,84.9,82.9,83.5,82.3,85.1,83.9,84.4,86.9,83.3,84.8,82.6,83.8,85.6,83.0,84.2,82.9,83.6,84.5],
[75.8,71.2,73.6,76.4,72.0,70.8,74.5,75.1,71.6,73.0,76.9,72.4,70.6,74.8,75.6,71.9,73.3,77.2,72.7,71.1,74.2,76.1,70.9,73.8,75.3,72.2,71.5,76.6,74.0,72.8,70.7,75.0,73.5,71.3,76.8,74.4,72.1,71.0,75.7,73.2,71.8,74.9,76.3,72.5,70.5,73.9,75.4,72.0,71.4,74.6,85.9,81.5,84.0,86.5,82.2,81.0,85.2,83.6,86.9,82.7,81.3,85.6,84.3,81.8,86.2,82.4,83.9,87.1,81.6,84.7,85.4,82.0,81.2,86.6,83.4,82.9,85.8,81.4,84.5,86.0,82.6,81.1,85.3,84.1,82.3,86.7,83.0,81.7,85.5,84.8,82.1,86.3,83.7,81.5,84.9,86.1,82.5,81.9,85.0,83.3],
[71.4,74.7,76.5,72.3,73.9,70.9,75.2,72.6,76.0,74.3,71.0,73.1,75.8,72.9,70.7,74.6,76.7,71.7,73.5,75.5,72.0,70.4,74.9,76.2,71.5,73.7,75.0,72.4,70.8,76.4,73.3,71.2,75.6,74.1,72.7,70.6,76.0,73.0,71.9,75.3,74.5,72.2,70.9,76.6,73.6,71.3,75.1,74.0,72.5,71.1,81.2,84.6,86.4,82.5,81.6,85.7,83.1,86.8,82.0,84.2,87.3,82.8,81.4,85.1,84.7,81.9,86.3,83.3,82.3,85.9,81.5,84.9,86.6,82.1,83.8,81.0,85.6,84.0,82.7,87.0,83.5,81.3,85.2,86.9,82.4,84.3,81.8,85.8,83.6,81.1,86.2,84.5,82.2,81.6,85.4,83.9,86.7,82.6,81.4,84.1],
[74.0,72.5,70.8,75.7,73.4,76.3,71.6,74.1,72.9,70.7,75.4,73.8,71.8,76.5,72.1,74.6,71.1,75.9,73.2,76.8,71.4,74.3,72.6,70.6,75.6,73.0,76.1,71.9,74.8,72.3,76.6,73.7,71.0,74.4,75.8,71.5,73.3,76.9,72.8,70.9,75.2,73.5,71.7,74.7,76.2,72.4,70.6,75.5,73.1,76.4,84.0,82.3,86.1,81.3,85.0,83.4,81.8,86.5,82.9,85.7,81.1,84.4,86.9,82.6,81.5,85.3,83.7,81.2,86.0,84.8,82.2,85.9,81.6,84.1,87.5,82.5,81.0,85.4,83.2,86.3,81.7,84.6,82.0,86.6,83.1,81.4,85.1,84.3,81.9,86.8,83.5,82.1,85.6,81.3,84.7,86.2,82.8,85.2,81.8,84.0],
[77.1,72.4,70.6,75.3,73.8,71.1,76.2,74.0,70.3,72.9,75.9,73.4,71.6,76.8,72.2,74.5,70.9,75.6,73.1,71.4,76.4,74.2,70.7,72.6,75.1,73.7,71.0,77.0,72.8,74.9,70.5,75.5,73.3,71.8,76.1,74.6,72.0,70.8,75.8,73.0,71.3,76.6,74.3,72.5,70.4,75.0,73.6,71.5,76.3,70.1,86.3,82.0,80.7,85.4,83.8,81.3,86.8,84.1,80.9,83.0,85.9,82.6,81.2,86.5,84.4,81.7,85.1,83.3,80.6,86.0,82.4,84.8,81.0,85.7,83.6,80.8,86.6,82.9,84.2,81.4,85.5,83.1,80.5,86.2,82.7,84.6,81.1,85.8,83.4,80.9,86.4,82.1,84.9,81.6,85.2,83.7,80.2,86.1,82.5,84.3],
[72.0,75.7,74.1,70.8,76.5,72.7,73.9,71.2,75.4,77.5,72.3,70.7,74.8,76.0,71.7,73.5,75.9,72.1,70.5,76.3,73.6,71.3,75.2,74.4,70.9,76.7,72.5,74.0,71.1,75.6,73.8,76.9,71.5,72.9,75.0,70.6,74.7,76.2,72.2,74.9,70.8,73.3,75.8,71.0,76.4,74.5,70.7,72.8,75.3,71.8,82.2,85.8,84.5,81.0,86.4,83.2,82.0,85.1,87.2,81.5,84.0,86.7,82.4,80.8,85.5,83.7,81.4,86.2,84.7,82.1,85.3,80.9,83.9,86.9,82.6,81.2,85.0,84.3,80.6,86.5,83.0,81.7,85.9,84.1,82.8,80.7,86.3,83.5,81.9,85.6,84.4,80.5,83.6,86.0,82.3,85.4,81.3,84.8,86.6,82.7]
];
const c3Min = [
[39.9,38.8,40.5,39.3,41.0,39.6,38.5,40.2,39.1,40.8,39.4,38.7,40.3,41.3,39.0,39.8,40.6,38.9,39.5,40.1,41.1,39.2,38.6,40.4,39.7,40.9,39.3,38.3,40.0,39.6,40.7,39.1,38.8,40.2,41.5,39.4,38.9,40.3,39.8,38.5,40.6,39.2,37.4,39.9,40.4,39.0,41.0,39.5,38.7,40.1,50.3,49.4,51.1,49.8,50.6,48.9,50.2,51.4,49.6,50.0,48.7,50.8,49.3,50.5,51.6,49.9,48.8,50.4,49.5,51.0,50.1,49.2,50.7,48.6,49.9,51.2,50.3,49.0,50.6,49.7,51.3,50.0,49.4,48.9,50.5,49.8,53.3,50.2,49.1,50.9,49.6,50.4,48.8,51.1,49.9,50.3,49.2,50.7,51.5,49.5],
[40.3,39.5,38.9,40.7,39.2,40.0,41.2,39.6,38.7,39.9,40.5,39.3,41.0,38.6,39.8,40.4,39.1,40.9,39.7,38.8,40.2,39.5,40.8,39.0,38.4,40.1,39.6,41.4,39.3,40.0,38.9,39.7,40.5,39.2,38.6,40.3,39.8,41.1,39.4,40.6,39.1,38.5,40.2,39.6,38.8,40.7,39.3,38.0,40.4,39.7,49.5,50.7,49.1,50.3,51.7,49.7,50.1,48.8,50.9,49.3,50.5,51.2,49.8,48.5,50.2,49.6,50.8,51.3,49.4,50.0,49.0,50.6,49.7,51.5,50.3,48.9,49.8,50.4,51.0,49.2,50.7,49.5,51.4,50.1,49.3,48.7,50.5,49.9,51.2,50.3,49.0,50.8,49.4,50.2,48.6,51.3,50.0,49.6,50.5,51.0],
[39.1,40.4,39.7,38.9,40.2,41.6,39.3,40.0,39.5,38.6,40.7,39.9,39.2,40.5,38.8,41.1,39.6,40.3,39.0,40.6,39.4,38.7,40.0,41.2,39.8,39.1,40.4,38.9,39.6,40.8,39.3,40.1,41.0,38.7,39.9,39.4,40.6,38.5,40.3,39.7,41.3,39.5,38.8,40.1,37.8,40.4,39.1,40.7,39.6,40.0,50.1,48.8,50.6,49.7,50.0,51.5,49.2,50.3,49.8,51.1,49.4,50.2,48.9,50.8,49.6,51.0,50.4,49.1,50.7,48.9,50.5,51.3,49.6,50.0,49.3,50.9,51.8,49.5,48.8,50.6,49.9,50.3,49.1,51.2,50.5,49.4,50.1,48.7,50.8,49.7,51.4,49.3,50.6,49.8,51.0,49.2,50.4,51.6,49.0,50.2],
[40.6,39.2,40.0,41.3,39.5,38.7,40.4,39.8,41.0,39.3,38.9,40.2,39.6,38.5,40.9,39.4,40.1,41.5,39.7,38.8,39.9,40.6,39.1,40.3,39.6,38.6,40.7,39.2,40.5,38.9,40.0,41.2,39.5,40.4,38.8,39.9,40.2,39.3,38.7,40.8,39.6,40.3,39.0,38.3,40.1,39.5,38.9,40.5,39.8,38.6,50.6,49.9,48.7,50.4,49.2,50.8,51.3,49.6,50.2,48.9,51.0,49.5,50.3,51.5,49.0,50.6,49.7,48.6,50.9,50.2,49.4,50.8,51.1,49.8,50.5,49.3,50.0,51.4,49.2,50.7,48.8,50.3,49.7,51.0,49.5,50.6,50.1,49.1,51.3,49.9,50.4,51.7,49.6,48.9,50.2,49.8,51.2,49.4,50.5,49.7],
[38.8,40.1,39.4,40.7,39.0,40.3,39.6,38.4,40.5,41.1,39.7,40.0,38.9,39.5,40.8,39.2,38.7,40.4,41.0,39.3,40.2,39.8,38.5,39.6,40.9,40.1,39.0,40.3,38.8,41.3,39.5,38.6,40.2,39.9,40.6,38.9,39.4,40.1,39.0,38.7,40.4,39.8,41.0,39.2,40.0,38.5,40.6,39.4,37.6,40.3,49.8,50.5,51.2,49.4,50.1,49.0,50.7,50.2,51.0,49.6,50.3,48.8,49.9,50.6,51.2,49.3,50.0,50.8,49.5,51.4,49.9,50.4,48.9,50.1,51.1,49.7,50.5,48.7,50.2,51.3,49.6,51.0,50.3,49.2,50.8,51.6,49.4,50.0,49.7,50.9,50.2,48.8,51.1,50.4,49.5,50.1,49.3,50.9,51.5,50.6],
[41.0,38.2,39.8,41.6,38.7,40.3,37.9,40.9,39.1,38.4,41.3,40.0,38.0,39.5,41.8,38.6,40.6,39.2,37.7,41.1,39.7,38.3,40.8,41.5,38.9,39.4,37.6,40.4,41.2,38.5,40.1,41.7,38.1,39.9,40.7,38.8,37.8,41.4,39.3,40.5,38.2,41.0,39.6,37.5,40.2,41.9,38.6,39.0,40.9,37.4,51.4,48.6,50.2,52.0,49.1,48.3,51.7,50.6,48.9,52.3,49.5,48.1,51.2,50.0,52.5,48.7,49.8,51.9,48.4,50.9,52.1,49.3,48.0,51.5,50.4,48.8,52.4,49.6,48.2,51.1,50.7,48.5,52.2,49.0,51.6,48.3,50.3,53.0,49.4,48.6,51.8,50.1,48.9,52.6,49.2,51.3,48.4,50.8,52.0,49.7],
[38.3,40.6,41.4,38.9,39.6,41.1,37.8,40.2,41.7,38.6,39.3,41.0,38.1,40.7,39.5,37.7,41.3,40.0,38.4,41.6,38.8,39.9,41.2,37.9,40.4,38.5,41.8,39.1,37.6,40.9,41.5,38.7,39.4,41.0,38.0,40.5,41.9,38.3,39.7,37.5,40.8,41.4,38.6,39.2,41.2,37.9,40.1,38.8,41.6,38.9,48.4,51.0,52.3,48.9,50.5,48.2,51.8,49.6,52.6,48.7,50.1,52.0,48.5,51.4,49.3,48.0,52.2,50.7,48.8,51.6,49.0,52.4,48.3,50.9,51.9,48.6,49.7,52.7,48.1,51.2,50.4,48.9,52.1,49.5,48.4,51.7,50.2,48.7,52.5,49.1,51.5,48.2,50.6,52.3,48.6,50.0,51.9,48.8,51.1,49.9],
[40.2,37.9,41.2,39.0,38.5,41.5,39.8,38.1,40.7,41.8,38.6,40.1,41.4,37.8,39.6,41.0,38.3,40.8,39.3,37.7,41.6,38.9,40.3,41.9,38.2,39.9,37.6,41.1,40.5,38.7,39.2,41.7,38.4,40.0,41.3,37.9,40.6,39.4,38.0,41.2,39.7,38.4,41.6,40.3,37.7,39.5,41.0,38.8,40.2,38.3,50.6,52.1,48.5,51.3,49.2,52.4,48.8,50.9,51.7,48.3,52.0,49.7,48.6,51.9,50.3,48.9,52.5,49.4,48.2,51.5,50.0,48.4,52.2,49.1,51.1,48.7,52.8,50.5,48.9,51.4,49.6,52.3,48.1,50.8,51.9,48.6,49.9,52.0,48.4,51.2,50.7,48.8,52.4,49.3,48.5,51.6,50.2,52.1,48.7,50.4],
[41.5,38.0,40.4,42.0,38.6,39.3,41.7,37.8,40.8,39.0,37.6,41.2,40.1,38.3,41.9,39.7,37.9,40.6,41.4,38.5,39.2,42.1,38.1,40.3,37.7,41.0,39.8,38.4,41.6,40.0,37.5,39.5,41.8,38.8,40.5,37.9,41.3,39.1,38.2,42.2,40.7,38.6,37.3,41.1,39.4,38.0,40.9,41.5,37.8,39.2,52.0,48.3,50.7,52.4,48.9,49.6,52.1,48.1,51.2,49.3,47.9,51.6,50.4,48.6,52.3,50.0,48.2,51.0,52.6,48.7,49.5,52.2,48.0,50.8,47.8,51.4,50.1,48.5,51.9,50.3,47.7,49.8,52.5,48.8,50.6,48.2,51.7,49.2,48.4,53.4,51.1,48.9,47.8,51.5,49.7,48.3,51.2,52.0,48.1,49.4],
[38.4,41.2,39.6,37.7,41.8,40.2,38.1,39.9,41.4,37.9,40.7,42.0,38.5,39.2,41.1,37.6,40.4,38.8,41.7,39.5,37.8,41.3,40.0,38.2,42.1,39.1,37.5,40.9,41.6,38.6,39.8,37.4,41.0,40.3,38.0,41.9,39.4,37.7,40.6,38.9,41.5,39.0,37.9,42.0,40.1,38.4,41.2,39.7,37.3,40.8,48.6,51.5,50.0,48.1,52.2,50.5,48.4,50.2,51.8,48.0,51.1,52.4,48.7,49.4,51.3,47.8,50.6,48.9,52.0,49.7,48.2,51.7,50.3,48.5,52.5,49.2,47.9,51.0,51.9,48.8,50.1,47.7,51.4,50.7,48.3,52.3,49.6,48.0,50.9,52.1,48.6,51.6,49.3,48.1,52.0,50.4,48.7,51.2,49.0,51.8]
];

const groups = [c1Max, c1Min, c2Max, c2Min, c3Max, c3Min];
const series = [];
groups.forEach(function (lines, g) {
  lines.forEach(function (vals) {
    series.push({
      name: groupNames[g],
      type: 'line',
      symbol: 'none',
      silent: true,
      color: groupColors[g],
      lineStyle: { width: 1.8, color: groupColors[g] },
      data: vals.map(function (v, i) { return [timeStart + i * timeStep, v]; })
    });
  });
});

const FONT = 'Liberation Sans, Arial, Helvetica, sans-serif';
const chart = echarts.init(document.getElementById('c'), null, { renderer: 'canvas' });
chart.setOption({
  animation: false,
  backgroundColor: '#ffffff',
  grid: { left: 45.5, top: 5.5, width: 462.5, height: 522.5, show: true, borderColor: '#000', borderWidth: 1, backgroundColor: 'transparent' },
  xAxis: {
    type: 'value', min: -7, max: 208,
    name: 'Time', nameLocation: 'middle', nameGap: 66,
    nameTextStyle: { fontFamily: FONT, fontSize: 16, color: '#000' },
    axisLine: { show: false },
    axisTick: { show: true, length: 9, lineStyle: { color: '#000' }, customValues: xTicks },
    axisLabel: { fontFamily: FONT, fontSize: 16, color: '#000', margin: 25, customValues: xTicks },
    splitLine: { show: false }
  },
  yAxis: {
    type: 'value', min: 2.3, max: 92.1,
    axisLine: { show: false },
    axisTick: { show: true, length: 9, lineStyle: { color: '#000' }, customValues: yTicks },
    axisLabel: { fontFamily: FONT, fontSize: 16, color: '#000', margin: 20, rotate: 90, customValues: yTicks },
    splitLine: { show: false }
  },
  legend: {
    data: groupNames,
    orient: 'vertical',
    left: 543, top: 438,
    padding: [9.7, 30, 9.7, 15.7],
    itemWidth: 31, itemHeight: 14, itemGap: 0,
    borderColor: '#000', borderWidth: 1,
    itemStyle: { opacity: 0 },
    lineStyle: { width: 1.3 },
    textStyle: { fontFamily: FONT, fontSize: 16, color: '#000', lineHeight: 20.6, padding: [0, 0, 0, 11] },
    selectedMode: false
  },
  series: series
});
</script>
</body>
</html>
